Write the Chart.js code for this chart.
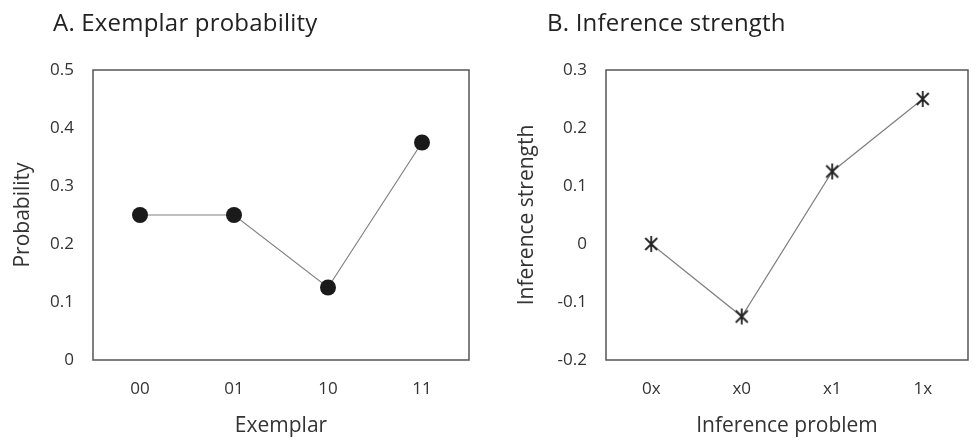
<!DOCTYPE html>
<html>
<head>
<meta charset="utf-8">
<script src="https://cdn.jsdelivr.net/npm/chart.js@4.4.1/dist/chart.umd.min.js"></script>
<style>
  body { margin: 0; background: #fff; font-family: "Open Sans", sans-serif; }
  .panel { position: absolute; top: 0; width: 488px; height: 443px; }
  .title { position: absolute; top: 5px; font-size: 24px; color: #222; white-space: nowrap; letter-spacing: 0.2px; }
</style>
</head>
<body>
<div class="panel" style="left:0">
  <div class="title" style="left:53px">A. Exemplar probability</div>
  <canvas id="chartA" width="488" height="443"></canvas>
</div>
<div class="panel" style="left:488px">
  <div class="title" style="left:59px">B. Inference strength</div>
  <canvas id="chartB" width="488" height="443"></canvas>
</div>
<script>
// panel A data
const exemplars = ['00', '01', '10', '11'];
const probability = [0.25, 0.25, 0.125, 0.375];

// panel B data
const problems = ['0x', 'x0', 'x1', '1x'];
const strength = [0, -0.125, 0.125, 0.25];

const textColor = '#333';
const tickFont = { family: 'Open Sans', size: 17 };
const axisTitleFont = { family: 'Open Sans', size: 21 };

// box around the plot area
const boxPlugin = {
  id: 'box',
  beforeDatasetsDraw(chart) {
    const a = chart.chartArea;
    const ctx = chart.ctx;
    ctx.save();
    ctx.strokeStyle = '#555';
    ctx.lineWidth = 1.5;
    ctx.strokeRect(a.left, a.top, a.right - a.left, a.bottom - a.top);
    ctx.restore();
  }
};

// asterisk marker (X plus a vertical bar)
function makeStar() {
  const c = document.createElement('canvas');
  c.width = 16; c.height = 18;
  const g = c.getContext('2d');
  g.strokeStyle = '#222';
  g.lineWidth = 1.8;
  g.beginPath();
  g.moveTo(2, 3); g.lineTo(14, 15);
  g.moveTo(14, 3); g.lineTo(2, 15);
  g.moveTo(8, 1); g.lineTo(8, 17);
  g.stroke();
  return c;
}

function fmt(v) {
  return String(Number(v.toFixed(1)));
}

function makeChart(id, labels, values, opts) {
  const ctx = document.getElementById(id).getContext('2d');
  return new Chart(ctx, {
    type: 'line',
    data: {
      labels: labels,
      datasets: [{
        data: values,
        borderColor: '#808080',
        borderWidth: 1.2,
        pointStyle: opts.pointStyle,
        pointRadius: opts.pointRadius,
        pointHoverRadius: opts.pointRadius,
        pointBackgroundColor: '#1a1a1a',
        pointBorderColor: '#1a1a1a',
        pointBorderWidth: 0,
        tension: 0,
        clip: false
      }]
    },
    options: {
      responsive: false,
      devicePixelRatio: 1,
      animation: false,
      layout: { padding: { top: 70, right: opts.padRight, bottom: 0, left: opts.padLeft } },
      plugins: { legend: { display: false }, tooltip: { enabled: false } },
      scales: {
        x: {
          type: 'category',
          offset: true,
          grid: { display: false, drawTicks: false },
          border: { display: false },
          ticks: { font: tickFont, color: textColor, padding: 19 },
          title: { display: true, text: opts.xTitle, font: axisTitleFont, color: textColor },
          afterFit(scale) { scale.height = 83; }
        },
        y: {
          min: opts.yMin,
          max: opts.yMax,
          grid: { display: false, drawTicks: false },
          border: { display: false },
          ticks: { stepSize: 0.1, font: tickFont, color: textColor, padding: 19, callback: fmt },
          title: { display: true, text: opts.yTitle, font: axisTitleFont, color: textColor },
          afterFit(scale) { scale.width = opts.axisWidth; }
        }
      }
    },
    plugins: [boxPlugin]
  });
}

makeChart('chartA', exemplars, probability, {
  xTitle: 'Exemplar', yTitle: 'Probability',
  yMin: 0, yMax: 0.5,
  pointStyle: 'circle', pointRadius: 8,
  padLeft: 6, padRight: 19, axisWidth: 87
});

makeChart('chartB', problems, strength, {
  xTitle: 'Inference problem', yTitle: 'Inference strength',
  yMin: -0.2, yMax: 0.3,
  pointStyle: makeStar(), pointRadius: 8,
  padLeft: 22, padRight: 2, axisWidth: 96
});
</script>
</body>
</html>
